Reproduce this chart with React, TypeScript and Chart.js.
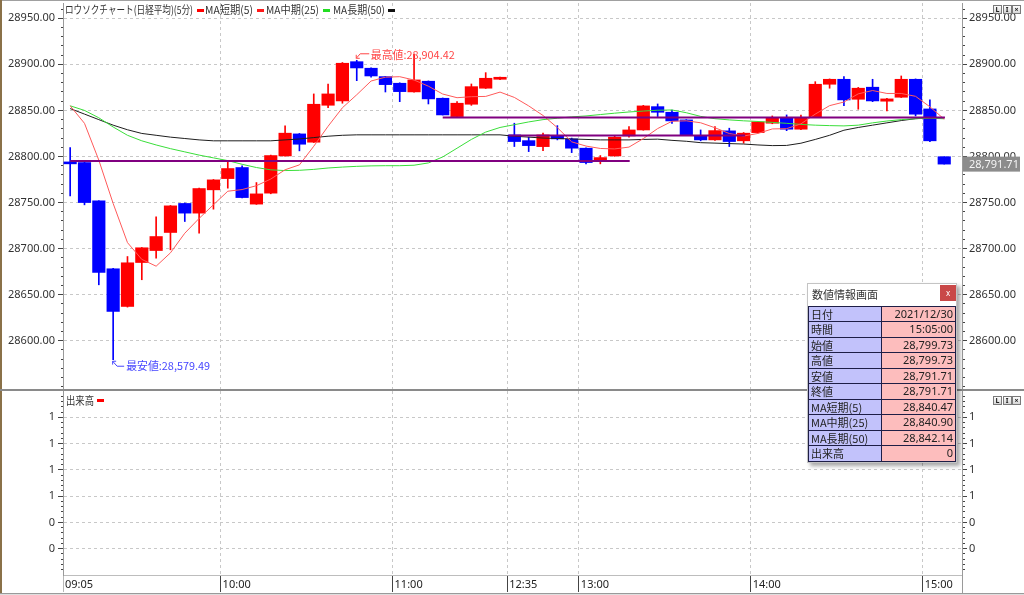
import React, { useEffect, useRef } from 'react';
import { Chart, registerables } from 'chart.js';

Chart.register(...registerables);

const JP = '"Noto Sans CJK JP", "Noto Sans", sans-serif';
const NUM = '"Noto Sans", "DejaVu Sans", sans-serif';

// ---- data (5-minute candles, 09:05 .. 15:05) ----
const opens = [
  28794.1, 28793.4, 28751.8, 28678.1, 28637.2, 28684.9, 28697.9, 28717.5, 28749.0, 28738.5,
  28763.8, 28776.0, 28788.0, 28748.3, 28760.2, 28800.6, 28824.5, 28815.5, 28855.6, 28860.3,
  28902.9, 28895.8, 28886.7, 28879.5, 28870.1, 28881.7, 28863.2, 28843.3, 28856.7, 28874.1,
  28883.8, 28823.4, 28817.2, 28810.7, 28822.3, 28819.1, 28809.0, 28794.5, 28800.6, 28822.3,
  28828.8, 28854.1, 28848.0, 28839.7, 28822.3, 28818.0, 28827.8, 28817.0, 28825.9, 28836.1,
  28842.2, 28829.6, 28842.6, 28878.4, 28883.8, 28862.1, 28875.2, 28860.0, 28864.3, 28883.8,
  28851.6, 28799.73,
];
const highs = [
  28809.7, 28794.0, 28752.0, 28678.5, 28691.4, 28701.2, 28734.5, 28746.8, 28749.5, 28765.8,
  28775.0, 28794.5, 28789.8, 28771.7, 28801.5, 28833.2, 28825.0, 28867.9, 28878.7, 28902.0,
  28904.42, 28896.2, 28887.0, 28880.0, 28911.0, 28882.0, 28863.5, 28859.5, 28878.7, 28891.0,
  28886.3, 28836.1, 28820.9, 28825.3, 28833.5, 28820.0, 28809.5, 28801.0, 28822.3, 28832.4,
  28855.5, 28857.0, 28850.5, 28840.0, 28828.8, 28832.4, 28830.7, 28826.0, 28838.0, 28844.0,
  28845.1, 28845.0, 28881.2, 28884.2, 28886.7, 28875.0, 28883.8, 28863.0, 28887.4, 28884.2,
  28861.4, 28799.73,
];
const lows = [
  28757.3, 28747.5, 28660.7, 28579.49, 28636.5, 28666.2, 28689.7, 28698.7, 28729.4, 28716.8,
  28742.8, 28765.6, 28755.0, 28748.0, 28759.5, 28800.2, 28806.1, 28815.2, 28853.0, 28857.8,
  28882.3, 28886.0, 28870.0, 28859.5, 28869.8, 28857.0, 28845.0, 28843.0, 28855.5, 28873.8,
  28883.5, 28810.8, 28805.3, 28806.4, 28818.0, 28804.2, 28792.0, 28792.0, 28800.2, 28821.0,
  28828.5, 28843.3, 28836.0, 28823.0, 28817.0, 28817.5, 28810.8, 28814.4, 28825.5, 28835.5,
  28828.0, 28829.2, 28842.2, 28874.1, 28855.2, 28851.3, 28859.5, 28849.5, 28864.0, 28844.0,
  28816.0, 28791.71,
];
const closes = [
  28792.0, 28750.0, 28674.1, 28631.8, 28684.6, 28700.9, 28713.1, 28746.4, 28738.5, 28765.2,
  28774.6, 28786.9, 28755.4, 28759.4, 28801.0, 28825.3, 28813.3, 28856.7, 28867.9, 28901.2,
  28896.1, 28887.4, 28878.0, 28870.4, 28883.1, 28862.5, 28845.1, 28857.8, 28875.8, 28884.9,
  28886.0, 28816.2, 28811.8, 28823.4, 28819.1, 28809.0, 28793.4, 28798.8, 28820.9, 28828.8,
  28854.9, 28848.0, 28838.6, 28823.4, 28818.0, 28828.1, 28816.2, 28825.3, 28837.5, 28842.2,
  28829.6, 28842.2, 28878.4, 28883.8, 28861.4, 28874.1, 28860.3, 28862.5, 28883.8, 28845.9,
  28817.0, 28791.71,
];
const ma5 = [
  28855, 28836, 28796, 28749, 28706.5, 28688.3, 28680.9, 28695.4, 28716.7, 28732.8,
  28747.6, 28762.3, 28764.1, 28768.3, 28775.5, 28785.6, 28790.9, 28811.1, 28832.8, 28852.9,
  28867.0, 28881.9, 28886.1, 28886.6, 28883.0, 28876.3, 28867.8, 28863.8, 28864.9, 28865.2,
  28869.9, 28864.1, 28854.9, 28844.5, 28831.3, 28815.9, 28811.3, 28808.7, 28808.2, 28810.2,
  28819.4, 28830.3, 28838.2, 28838.7, 28836.6, 28831.2, 28824.9, 28822.2, 28825.0, 28829.9,
  28830.2, 28835.4, 28846.0, 28855.2, 28859.1, 28868.0, 28871.6, 28868.4, 28868.4, 28865.3,
  28853.9, 28840.47,
];
const ma25 = [
  28855, 28850, 28842, 28832, 28823, 28817, 28812.5, 28808.5, 28805, 28801.5,
  28798.5, 28795.5, 28791.5, 28788, 28785.5, 28784.7, 28785, 28786, 28787.5, 28788.5,
  28789.3, 28789.8, 28790, 28790, 28790.5, 28793, 28799.5, 28809, 28818.5, 28826.5,
  28831.5, 28834.5, 28837.5, 28840, 28841.5, 28843, 28844, 28845.5, 28847, 28848.3,
  28849.3, 28850.2, 28850.5, 28847.5, 28843.5, 28841, 28839.7, 28838.7, 28838, 28837,
  28836, 28834.8, 28834, 28833.5, 28833.2, 28834, 28836.5, 28838.5, 28840, 28841,
  28841.5, 28840.9,
];
const ma50 = [
  28852, 28846, 28840, 28834, 28829, 28825, 28823, 28821, 28819.5, 28818,
  28817, 28817, 28817, 28817, 28817, 28818, 28819, 28820.5, 28822, 28823,
  28823.5, 28823.5, 28823.5, 28823.5, 28823.5, 28823.5, 28823.5, 28823.5, 28823.5, 28823.5,
  28823.5, 28822, 28821, 28820, 28819.5, 28819, 28818.5, 28818, 28818, 28818,
  28818.5, 28818.8, 28817.5, 28816.5, 28815, 28814.5, 28814, 28813.5, 28812.5, 28811.8,
  28812, 28814.4, 28818.5, 28823, 28828.5, 28831.5, 28834, 28836.5, 28839, 28841,
  28842, 28842.14,
];
const volumes = [
  0, 0, 0, 0, 0, 0, 0, 0, 0, 0, 0, 0, 0, 0, 0, 0, 0, 0, 0, 0, 0, 0, 0, 0, 0, 0, 0, 0, 0, 0, 0,
  0, 0, 0, 0, 0, 0, 0, 0, 0, 0, 0, 0, 0, 0, 0, 0, 0, 0, 0, 0, 0, 0, 0, 0, 0, 0, 0, 0, 0, 0, 0,
];

const timeTickIndex = [0, 11, 23, 31, 36, 48, 60];
const timeTickLabels = ['09:05', '10:00', '11:00', '12:35', '13:00', '14:00', '15:00'];

// price axis labels
const priceLabelValues = [28600, 28650, 28700, 28750, 28800, 28850, 28900, 28950];

// horizontal level lines (value, start index, end index)
const levelValues = [28795.0, 28842.4, 28822.8];
const levelStarts = [0, 26, 30.6];
const levelEnds = [39.05, 61.05, 47.1];

const highMarkIndex = 20;
const highMarkValue = 28904.42;
const lowMarkIndex = 3;
const lowMarkValue = 28579.49;

const legendNames = ['ロウソクチャート(日経平均)(5分)', 'MA短期(5)', 'MA中期(25)', 'MA長期(50)'];
const legendColors = ['#ff0000', '#ff1a1a', '#22dd22', '#111111'];

const infoDate = '2021/12/30';
const infoTime = '15:05:00';
const infoLabels = ['日付', '時間', '始値', '高値', '安値', '終値', 'MA短期(5)', 'MA中期(25)', 'MA長期(50)', '出来高'];

// ---- helpers ----
const X_MIN = -0.5;
const X_MAX = 62.24;
const P_MIN = 28547.6;
const P_MAX = 28966.6;
const UP = '#ff0000';
const DOWN = '#0000ff';

const fmt = (v: number) => {
  const [i, d] = v.toFixed(2).split('.');
  return i.replace(/\B(?=(\d{3})+(?!\d))/g, ',') + '.' + d;
};

const last = closes.length - 1;
const infoValues = [
  infoDate,
  infoTime,
  fmt(opens[last]),
  fmt(highs[last]),
  fmt(lows[last]),
  fmt(closes[last]),
  fmt(ma5[last]),
  fmt(ma25[last]),
  fmt(ma50[last]),
  String(volumes[last]),
];

function timeAxis(showLabels: boolean) {
  return {
    type: 'linear',
    min: X_MIN,
    max: X_MAX,
    offset: false,
    afterBuildTicks: (s: any) => {
      s.ticks = timeTickIndex.map((i) => ({ value: i - 0.5 }));
    },
    afterFit: (s: any) => {
      s.height = showLabels ? 18 : 0;
      s.paddingLeft = 0;
      s.paddingRight = 0;
    },
    ticks: {
      display: showLabels,
      autoSkip: false,
      maxRotation: 0,
      minRotation: 0,
      align: 'start',
      padding: -13.6,
      labelOffset: 2,
      color: '#222',
      font: { family: NUM, size: 11 },
      callback: (v: number) => {
        const idx = timeTickIndex.indexOf(Math.round(v + 0.5));
        return idx >= 0 ? timeTickLabels[idx] : '';
      },
    },
    grid: {
      offset: false,
      color: '#c8c8c8',
      drawTicks: showLabels,
      tickLength: 17,
      tickWidth: 1,
      tickColor: (c: any) => (c.index === 0 ? '#b8b8b8' : '#444'),
    },
    border: { display: showLabels, color: '#bdbdbd', dash: [3, 3] },
  };
}

function valueAxis(
  pos: 'left' | 'right',
  min: number,
  max: number,
  tickVals: number[],
  isMajor: (v: number) => boolean,
  label: (v: number) => string,
) {
  const isLeft = pos === 'left';
  return {
    type: 'linear',
    position: pos,
    min,
    max,
    afterBuildTicks: (s: any) => {
      s.ticks = tickVals.map((v) => ({ value: v }));
    },
    afterFit: (s: any) => {
      s.width = isLeft ? 63 : 62;
      s.paddingTop = 0;
      s.paddingBottom = 0;
    },
    ticks: {
      autoSkip: false,
      padding: isLeft ? 3 : 2,
      color: '#333',
      font: { family: NUM, size: 11 },
      callback: (v: number) => (isMajor(v) ? label(v) : ''),
    },
    grid: {
      drawOnChartArea: isLeft,
      color: (c: any) => (c.tick && isMajor(c.tick.value) ? '#c8c8c8' : 'rgba(0,0,0,0)'),
      tickLength: 5,
      tickWidth: 1,
      tickColor: '#444',
      tickBorderDash: (c: any) =>
        c.tick && isMajor(c.tick.value) ? [] : isLeft ? [0, 3, 2, 10] : [2, 10],
    },
    border: { display: true, color: '#9a9a9a', dash: [3, 3] },
  };
}

const priceTickVals: number[] = [];
for (let v = 28550; v <= 28960; v += 10) priceTickVals.push(v);
const isPriceMajor = (v: number) => priceLabelValues.some((p) => Math.abs(p - v) < 1e-6);

const volTickVals: number[] = [];
for (let i = 1; i <= 34; i++) volTickVals.push(i * 0.04);
const isVolMajor = (v: number) => Math.abs(v * 5 - Math.round(v * 5)) < 1e-6;

const topOverlay = {
  id: 'topOverlay',
  afterDraw(chart: any) {
    const { ctx } = chart;
    const xs = chart.scales.x;
    const ys = chart.scales.y;
    ctx.save();
    // legend row
    const lx = [65, 205, 266, 333];
    const lw = [128, 48, 53, 52];
    const mx = [197, 257, 323, 388];
    ctx.textBaseline = 'middle';
    ctx.textAlign = 'left';
    ctx.font = `11px ${JP}`;
    legendNames.forEach((name, i) => {
      ctx.fillStyle = '#333';
      ctx.fillText(name, lx[i], 10, lw[i]);
      ctx.fillStyle = legendColors[i];
      ctx.fillRect(mx[i], 9, 7, 3);
    });
    // high mark
    const hx = xs.getPixelForValue(highMarkIndex);
    const hy = ys.getPixelForValue(highMarkValue);
    ctx.strokeStyle = '#ff4545';
    ctx.fillStyle = '#ff4545';
    ctx.lineWidth = 1;
    ctx.beginPath();
    ctx.moveTo(hx + 12.5, hy - 6.5);
    ctx.lineTo(hx + 3.5, hy - 6.5);
    ctx.lineTo(hx - 0.5, hy - 2);
    ctx.moveTo(hx - 0.5, hy - 5.5);
    ctx.lineTo(hx - 0.5, hy - 2);
    ctx.lineTo(hx + 3, hy - 2);
    ctx.stroke();
    ctx.font = `11px ${JP}`;
    ctx.fillText('最高値:' + fmt(highMarkValue), hx + 14, hy - 5.5, 84);
    // low mark
    const bx = xs.getPixelForValue(lowMarkIndex);
    const by = ys.getPixelForValue(lowMarkValue);
    ctx.strokeStyle = '#4545ff';
    ctx.fillStyle = '#4545ff';
    ctx.beginPath();
    ctx.moveTo(bx + 11, by + 6.6);
    ctx.lineTo(bx + 4, by + 6.6);
    ctx.lineTo(bx - 0.5, by + 1.6);
    ctx.moveTo(bx - 0.5, by + 5);
    ctx.lineTo(bx - 0.5, by + 1.6);
    ctx.lineTo(bx + 3, by + 1.6);
    ctx.stroke();
    ctx.fillText('最安値:' + fmt(lowMarkValue), bx + 13, by + 6.6, 84);
    // last price tag on right axis
    const py = ys.getPixelForValue(closes[last]);
    ctx.fillStyle = '#8c8c8c';
    ctx.fillRect(963, py - 7.5, 57, 15);
    ctx.fillStyle = '#f4f4f4';
    ctx.font = `11px ${NUM}`;
    ctx.fillText(fmt(closes[last]), 969, py + 0.5);
    ctx.restore();
  },
};

const bottomOverlay = {
  id: 'bottomOverlay',
  afterDraw(chart: any) {
    const { ctx } = chart;
    ctx.save();
    ctx.textBaseline = 'middle';
    ctx.font = `11px ${JP}`;
    ctx.fillStyle = '#333';
    ctx.fillText('出来高', 66, 10.5, 28);
    ctx.fillStyle = '#ff0000';
    ctx.fillRect(97, 9, 7, 3);
    ctx.restore();
  },
};

function PanelButtons({ top }: { top: number }) {
  return (
    <>
      {['L', 'I', '×'].map((ch, i) => (
        <div
          key={ch}
          style={{
            position: 'absolute',
            left: 993 + i * 9.5,
            top,
            width: 7,
            height: 7,
            border: '1px solid #7a7a7a',
            background: 'linear-gradient(#fdfdfd, #d6d6d6)',
            fontSize: 7,
            fontWeight: 'bold',
            lineHeight: '7px',
            textAlign: 'center',
            fontFamily: NUM,
            color: '#222',
          }}
        >
          {ch}
        </div>
      ))}
    </>
  );
}

export default function App() {
  const topRef = useRef<HTMLCanvasElement>(null);
  const botRef = useRef<HTMLCanvasElement>(null);

  useEffect(() => {
    const idx = closes.map((_, i) => i);
    const levelSets = levelValues.map((v, j) => ({
      type: 'line',
      order: 1,
      data: [
        { x: levelStarts[j], y: v },
        { x: levelEnds[j], y: v },
      ],
      borderColor: '#800080',
      borderWidth: 2,
      pointRadius: 0,
    }));
    const maLine = (vals: number[], color: string, order: number) => ({
      type: 'line',
      order,
      data: vals.map((v, i) => ({ x: i, y: v })),
      borderColor: color,
      borderWidth: 1,
      pointRadius: 0,
      tension: 0,
    });
    const candleColors = idx.map((i) => (closes[i] >= opens[i] ? UP : DOWN));

    const top = new Chart(topRef.current as HTMLCanvasElement, {
      type: 'bar',
      data: {
        datasets: [
          ...levelSets,
          maLine(ma5, '#ff5a5a', 2),
          maLine(ma25, '#3ade3a', 3),
          maLine(ma50, '#1e1e1e', 4),
          {
            type: 'bar',
            order: 5,
            data: idx.map((i) => ({ x: i, y: [opens[i], closes[i]] })),
            backgroundColor: candleColors,
            borderWidth: 0,
            barThickness: 12.5,
            grouped: false,
          },
          {
            type: 'bar',
            order: 6,
            data: idx.map((i) => ({ x: i, y: [lows[i], highs[i]] })),
            backgroundColor: candleColors,
            borderWidth: 0,
            barThickness: 1,
            grouped: false,
          },
        ] as any,
      },
      options: {
        responsive: false,
        animation: false,
        events: [],
        layout: { padding: { left: 0, right: 0, top: 3, bottom: 1 } },
        plugins: { legend: { display: false }, tooltip: { enabled: false } },
        scales: {
          x: timeAxis(false) as any,
          y: valueAxis('left', P_MIN, P_MAX, priceTickVals, isPriceMajor, (v) => v.toFixed(2)) as any,
          y2: valueAxis('right', P_MIN, P_MAX, priceTickVals, isPriceMajor, (v) => v.toFixed(2)) as any,
        },
      },
      plugins: [topOverlay],
    });

    const bot = new Chart(botRef.current as HTMLCanvasElement, {
      type: 'bar',
      data: {
        datasets: [
          {
            data: volumes.map((v, i) => ({ x: i, y: v })),
            backgroundColor: '#ff0000',
            borderWidth: 0,
            barThickness: 12.5,
            grouped: false,
            inflateAmount: 0,
          },
        ] as any,
      },
      options: {
        responsive: false,
        animation: false,
        events: [],
        layout: { padding: { left: 0, right: 0, top: 1, bottom: 2 } },
        plugins: { legend: { display: false }, tooltip: { enabled: false } },
        scales: {
          x: timeAxis(true) as any,
          y: valueAxis('left', 0, 1.4, volTickVals, isVolMajor, (v) => String(Math.round(v))) as any,
          y2: valueAxis('right', 0, 1.4, volTickVals, isVolMajor, (v) => String(Math.round(v))) as any,
        },
      },
      plugins: [bottomOverlay],
    });

    return () => {
      top.destroy();
      bot.destroy();
    };
  }, []);

  const rowH = 15.5;
  return (
    <div
      style={{
        position: 'absolute',
        left: 0,
        top: 0,
        width: 1024,
        height: 595,
        background: '#ffffff',
        overflow: 'hidden',
      }}
    >
      <canvas ref={topRef} width={1024} height={390} style={{ position: 'absolute', left: 0, top: 0 }} />
      <canvas ref={botRef} width={1024} height={205} style={{ position: 'absolute', left: 0, top: 390 }} />

      {/* frame */}
      <div style={{ position: 'absolute', left: 0, top: 0, width: 1024, height: 1, background: '#a0a0a0' }} />
      <div style={{ position: 'absolute', left: 0, top: 0, width: 2, height: 593, background: '#8a7148' }} />
      <div style={{ position: 'absolute', left: 0, top: 389, width: 1024, height: 2, background: '#8a8a8a' }} />
      <div style={{ position: 'absolute', left: 0, top: 593, width: 1024, height: 1, background: '#9a9a9a' }} />
      <div style={{ position: 'absolute', left: 0, top: 594, width: 1024, height: 1, background: '#dedede' }} />
      <div style={{ position: 'absolute', left: 962, top: 575, width: 1, height: 18, background: '#9a9a9a' }} />

      <PanelButtons top={5} />
      <PanelButtons top={396} />

      {/* info window */}
      <div
        style={{
          position: 'absolute',
          left: 807,
          top: 283,
          width: 148,
          border: '1px solid #c4c4c4',
          background: '#ffffff',
          boxShadow: '3px 3px 4px rgba(0,0,0,0.35)',
          fontFamily: JP,
          color: '#222',
        }}
      >
        <div style={{ position: 'relative', height: 21.7, fontSize: 11, lineHeight: '21px', paddingLeft: 4, color: '#333' }}>
          数値情報画面
          <div
            style={{
              position: 'absolute',
              left: 132,
              top: 1,
              width: 16,
              height: 16,
              background: '#c94848',
              color: '#fff',
              fontSize: 8,
              lineHeight: '15px',
              textAlign: 'center',
              fontFamily: NUM,
            }}
          >
            x
          </div>
        </div>
        <div style={{ borderTop: '1px solid #1e1e46', borderLeft: '1px solid #1e1e46' }}>
          {infoLabels.map((lab, i) => (
            <div key={lab} style={{ display: 'flex', height: rowH - 1 + 'px', borderBottom: '1px solid #1e1e46' }}>
              <div
                style={{
                  width: 73,
                  borderRight: '1px solid #1e1e46',
                  background: '#c2c2fb',
                  fontSize: 11,
                  lineHeight: rowH - 1 + 'px',
                  paddingLeft: 2,
                  boxSizing: 'border-box',
                  whiteSpace: 'nowrap',
                }}
              >
                {lab}
              </div>
              <div
                style={{
                  width: 74,
                  borderRight: '1px solid #1e1e46',
                  background: '#fdbdbd',
                  fontSize: 11,
                  lineHeight: rowH - 1 + 'px',
                  paddingRight: 2,
                  textAlign: 'right',
                  boxSizing: 'border-box',
                  fontFamily: NUM,
                }}
              >
                {infoValues[i]}
              </div>
            </div>
          ))}
        </div>
      </div>
    </div>
  );
}
